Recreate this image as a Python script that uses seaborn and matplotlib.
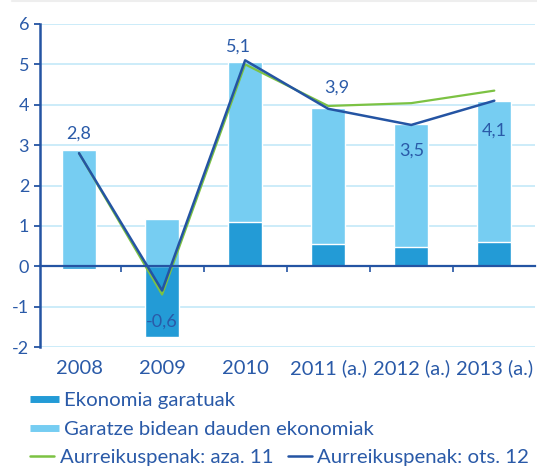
import numpy as np
import pandas as pd
import matplotlib
matplotlib.use('Agg')
import matplotlib.pyplot as plt
from matplotlib.lines import Line2D
import seaborn as sns

# Datos
years = ['2008', '2009', '2010', '2011 (a.)', '2012 (a.)', '2013 (a.)']
garatuak = [-0.07, -1.75, 1.10, 0.55, 0.47, 0.60]
garatze_bidean = [2.87, 1.17, 3.97, 3.37, 3.05, 3.50]
aza_11 = [2.80, -0.70, 5.00, 3.97, 4.04, 4.35]
ots_12 = [2.80, -0.60, 5.10, 3.90, 3.50, 4.10]

# Colores
c_dark = '#239bd6'
c_light = '#76cdf2'
c_green = '#7cc243'
c_navy = '#2454a3'
c_text = '#2a5aa8'
c_grid = '#bfe7f8'

sns.set_style('white')
plt.rcParams['font.family'] = ['Lato', 'DejaVu Sans']
plt.rcParams['axes.unicode_minus'] = False

df = pd.DataFrame({'urtea': years, 'garatuak': garatuak, 'bidean': garatze_bidean})
# apilar: la parte clara empieza encima de la parte oscura positiva
df['bidean_top'] = df['bidean'] + df['garatuak'].clip(lower=0)

fig = plt.figure(figsize=(5.37, 4.66), dpi=100)
ax = fig.add_axes([40 / 537, 1 - 347 / 466, 495 / 537, 323 / 466])

sns.barplot(data=df, x='urtea', y='bidean_top', color=c_light, width=0.41,
            saturation=1, ax=ax, zorder=2)
sns.barplot(data=df, x='urtea', y='garatuak', color=c_dark, width=0.41,
            saturation=1, ax=ax, zorder=2)

xpos = np.arange(len(years))
sns.lineplot(x=xpos, y=aza_11, color=c_green, lw=1.6, ax=ax, zorder=3)
sns.lineplot(x=xpos, y=ots_12, color=c_navy, lw=1.8, ax=ax, zorder=4)

# Etiquetas de valor (desplazamiento en px)
offsets = [(0, 20), (0, -31), (-7, 14), (9, 21), (0, -26), (0, -30)]
for i, v in enumerate(ots_12):
    dx, dy = offsets[i]
    ax.annotate(f'{v:.1f}'.replace('.', ','), (i, v),
                xytext=(dx * 0.72, dy * 0.72), textcoords='offset points',
                ha='center', va='center', fontsize=13, color=c_text, zorder=5)

ax.set_ylim(-2, 6)
ax.set_xlim(-0.47, 5.49)
ax.set_yticks(range(-2, 7))
ax.grid(axis='y', color=c_grid, lw=1.1)
ax.set_axisbelow(True)
ax.set_xlabel('')
ax.set_ylabel('')

for s in ['top', 'right']:
    ax.spines[s].set_visible(False)
ax.spines['left'].set_color(c_navy)
ax.spines['left'].set_linewidth(1.8)
ax.spines['bottom'].set_position(('data', 0))
ax.spines['bottom'].set_color(c_navy)
ax.spines['bottom'].set_linewidth(1.6)
ax.spines['bottom'].set_zorder(3)

ax.set_xticks(np.arange(0.5, 5.5, 1))
ax.set_xticklabels([])
ax.tick_params(axis='x', bottom=True, length=4, width=1.2, color=c_navy)
ax.tick_params(axis='y', left=True, length=4.3, width=1.3, color=c_navy,
               labelsize=13, labelcolor=c_text)

sec = ax.secondary_xaxis('bottom')
sec.set_xticks(xpos, labels=years)
sec.tick_params(length=0, pad=9, labelsize=14.5, labelcolor=c_text)
sec.spines['bottom'].set_visible(False)

# Leyenda
leg_kw = dict(frameon=False, fontsize=14.7, labelcolor=c_text, borderpad=0,
              borderaxespad=0, handletextpad=0.25, loc='center left')
h1 = [Line2D([], [], color=c_dark, lw=5, solid_capstyle='butt')]
h2 = [Line2D([], [], color=c_light, lw=5, solid_capstyle='butt')]
h3 = [Line2D([], [], color=c_green, lw=1.8), Line2D([], [], color=c_navy, lw=1.8)]
l1 = fig.legend(h1, ['Ekonomia garatuak'], bbox_to_anchor=(30 / 537, 1 - 400 / 466),
                handlelength=1.4, **leg_kw)
l2 = fig.legend(h2, ['Garatze bidean dauden ekonomiak'],
                bbox_to_anchor=(30 / 537, 1 - 429 / 466), handlelength=1.4, **leg_kw)
l3 = fig.legend(h3, ['Aurreikuspenak: aza. 11', 'Aurreikuspenak: ots. 12'],
                bbox_to_anchor=(30 / 537, 1 - 457 / 466), ncol=2, handlelength=1.2,
                columnspacing=0.7, **leg_kw)

# linea gris superior
fig.add_artist(Line2D([12 / 537, 1], [0.998, 0.998], color='#eeeeee', lw=1.5))

fig.savefig('out.png', dpi=100)
